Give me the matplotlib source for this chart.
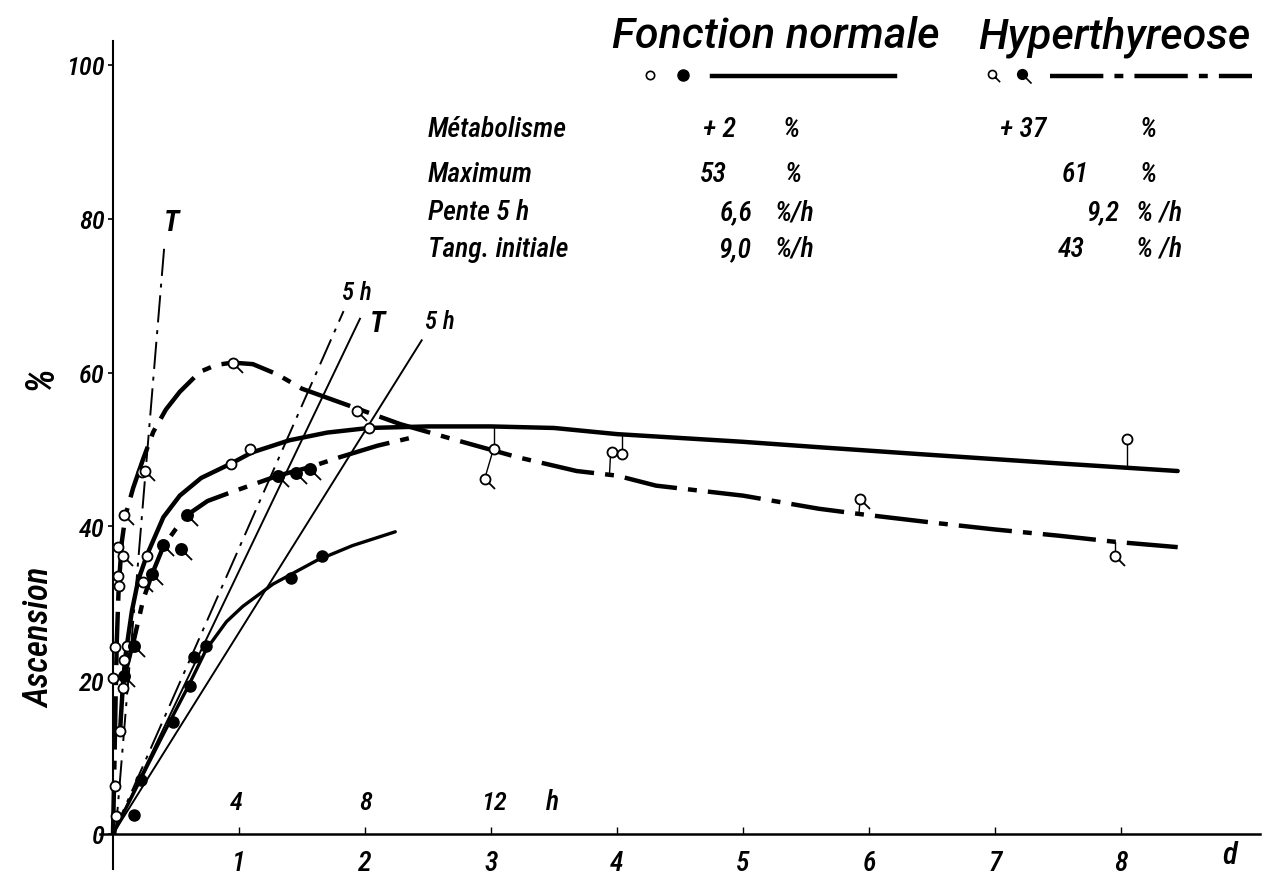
"""Iodine uptake curves: normal function vs hyperthyreosis (scan redraw).

Open marks are read on the day scale, filled marks on the hour scale (4 h per tick).
Writes out.png
"""

import matplotlib

matplotlib.use("Agg")
import matplotlib.pyplot as plt
from matplotlib import font_manager
from matplotlib.path import Path

# --- curves -------------------------------------------------------------
NORMAL_D_X = [0.056, 0.077, 0.095, 0.11, 0.15, 0.2, 0.27, 0.4, 0.53, 0.7, 0.94, 1.1,
              1.4, 1.7, 2.03, 2.5, 3.0, 3.5, 4.0, 5.0, 5.6, 6.4, 7.5, 8.45]
NORMAL_D_Y = [13.4, 19.0, 22.6, 24.5, 29.0, 33.0, 36.3, 41.2, 44.0, 46.3, 48.2, 49.6,
              51.2, 52.2, 52.8, 53.0, 53.0, 52.8, 52.0, 51.0, 50.3, 49.4, 48.2, 47.2]

NORMAL_H_X = [0.0, 0.2, 0.4, 0.6, 0.74, 0.9, 1.03, 1.27, 1.62, 1.9, 2.24]
NORMAL_H_Y = [0.0, 6.5, 13.0, 19.3, 24.0, 27.6, 29.6, 32.5, 35.6, 37.5, 39.3]

HYPER_D_X = [0.0, 0.01, 0.02, 0.03, 0.045, 0.07, 0.1, 0.16, 0.24, 0.32, 0.42, 0.53,
             0.69, 0.82, 0.95, 1.11, 1.3, 1.5, 1.84, 2.28, 2.75, 3.21, 3.68, 4.0,
             4.31, 5.0, 5.6, 5.93, 6.5, 7.0, 7.5, 7.95, 8.45]
HYPER_D_Y = [0.0, 8.0, 17.0, 25.0, 32.0, 38.0, 41.5, 45.0, 48.8, 52.3, 55.2, 57.5,
             60.1, 61.0, 61.3, 61.1, 59.8, 57.9, 55.9, 53.3, 51.1, 49.0, 47.2, 46.6,
             45.3, 44.0, 42.3, 41.6, 40.5, 39.6, 38.8, 38.0, 37.3]

HYPER_H_X = [0.09, 0.17, 0.24, 0.31, 0.40, 0.5, 0.59, 0.75, 0.93, 1.31, 1.56, 1.8, 2.1, 2.41]
HYPER_H_Y = [20.5, 25.5, 30.5, 33.8, 37.4, 39.7, 41.5, 43.3, 44.4, 46.6, 47.7, 49.0, 50.5, 51.7]

# straight lines from the origin: (x, y) of both ends
HYPER_T = ([0.02, 0.41], [0.0, 77.0])
HYPER_5H = ([0.0, 1.83], [0.0, 68.0])
NORMAL_T = ([0.0, 1.96], [0.0, 67.0])
NORMAL_5H = ([0.0, 2.45], [0.0, 64.2])

# --- measured points ----------------------------------------------------
OPEN_X = [0.024, 0.016, 0.0, 0.016, 0.056, 0.077, 0.09, 0.11, 0.04, 0.05, 0.04,
          0.23, 0.27, 0.94, 1.09, 2.03, 3.02, 3.96, 4.04, 8.05]
OPEN_Y = [2.4, 6.3, 20.3, 24.3, 13.4, 19.0, 22.6, 24.5, 33.5, 32.3, 37.3,
          47.1, 36.1, 48.1, 50.1, 52.8, 50.1, 49.7, 49.4, 51.4]

OPEN_TAIL_X = [0.08, 0.09, 0.235, 0.25, 0.95, 1.94, 2.95, 5.93, 7.95]
OPEN_TAIL_Y = [36.2, 41.5, 32.8, 47.2, 61.3, 55.0, 46.2, 43.6, 36.1]

FILLED_X = [0.17, 0.22, 0.48, 0.61, 0.64, 0.74, 1.41, 1.66]
FILLED_Y = [2.5, 7.0, 14.5, 19.2, 23.0, 24.5, 33.3, 36.1]

FILLED_TAIL_X = [0.09, 0.17, 0.31, 0.40, 0.54, 0.59, 1.31, 1.45, 1.56]
FILLED_TAIL_Y = [20.5, 24.5, 33.8, 37.6, 37.1, 41.5, 46.6, 47.0, 47.5]

# thin stems joining a point to its curve
STEM_X0 = [3.02, 3.02, 4.04, 3.95, 5.93, 7.95, 8.05]
STEM_X1 = [3.02, 2.95, 4.04, 3.94, 5.92, 7.95, 8.05]
STEM_Y0 = [52.8, 50.1, 51.8, 49.7, 43.6, 36.1, 51.4]
STEM_Y1 = [50.1, 46.2, 49.4, 46.7, 41.6, 38.0, 47.7]

Y_TICKS = [0, 20, 40, 60, 80, 100]
X_TICKS = [1, 2, 3, 4, 5, 6, 7, 8]
HOUR_TICKS = ["4", "8", "12"]

ROW_LABELS = ["Métabolisme", "Maximum", "Pente 5 h", "Tang. initiale"]
NORMAL_VALUES = ["+ 2", "53", "6,6", "9,0"]
NORMAL_UNITS = ["%", "%", "%/h", "%/h"]
HYPER_VALUES = ["+ 37", "61", "9,2", "43"]
HYPER_UNITS = ["%", "%", "% /h", "% /h"]

# --- setup --------------------------------------------------------------
W, H = 1264, 879
X0, XS = 113, 126.0     # pixel of x=0, pixels per day
Y0, YS = 835, 7.69      # pixel of y=0, pixels per %

names = {f.name for f in font_manager.fontManager.ttflist}
NARROW = next((n for n in ["Roboto Condensed", "Liberation Sans Narrow", "Archivo Narrow",
                           "PT Sans Narrow"] if n in names), "Roboto")
WIDE = "Roboto" if "Roboto" in names else "Liberation Sans"
plt.rcParams["font.family"] = [NARROW, "DejaVu Sans"]
plt.rcParams["font.style"] = "italic"
plt.rcParams["font.weight"] = "medium"


def dx(px):
    return (px - X0) / XS


def dy(py):
    return (Y0 - py) / YS


fig = plt.figure(figsize=(W / 100, H / 100), dpi=100)
ax = fig.add_axes([0, 0, 1, 1])
ax.set_xlim(dx(0), dx(W))
ax.set_ylim(dy(H), dy(0))
for s in ("top", "right"):
    ax.spines[s].set_visible(False)
ax.spines["left"].set_position(("data", 0))
ax.spines["bottom"].set_position(("data", 0))
ax.spines["left"].set_bounds(dy(870), dy(42))
ax.spines["bottom"].set_bounds(dx(100), dx(1260))
ax.spines["left"].set_linewidth(1.5)
ax.spines["bottom"].set_linewidth(1.8)

ax.set_yticks(Y_TICKS)
ax.set_yticklabels([str(v) for v in Y_TICKS])
ax.set_xticks(X_TICKS)
ax.set_xticklabels([str(v) for v in X_TICKS])
ax.tick_params(axis="y", direction="out", length=3.5, width=1.2, pad=2.5, labelsize=19)
ax.tick_params(axis="x", direction="in", length=5, width=1.0, pad=11, labelsize=20)

# --- markers ------------------------------------------------------------
TAIL = Path.make_compound_path(
    Path.circle((0, 0), 0.5),
    Path([(0.35, -0.35), (0.95, -0.95)], [Path.MOVETO, Path.LINETO]),
)
MS = 7.2
MS_TAIL = MS / 0.526

DASHDOT = (0, (12, 2.5, 2, 2.5))
THIN_DASHDOT = (0, (14, 4, 2, 4))

# --- lines --------------------------------------------------------------
ax.plot(NORMAL_D_X, NORMAL_D_Y, color="k", lw=3.2, solid_capstyle="round", zorder=3)
ax.plot(NORMAL_H_X, NORMAL_H_Y, color="k", lw=2.4, solid_capstyle="round", zorder=3)
ax.plot(HYPER_D_X, HYPER_D_Y, color="k", lw=3.2, ls=DASHDOT, zorder=3)
ax.plot(HYPER_H_X, HYPER_H_Y, color="k", lw=3.2, ls=DASHDOT, zorder=3)

ax.plot(*HYPER_T, color="k", lw=1.4, ls=THIN_DASHDOT, zorder=2)
ax.plot(*HYPER_5H, color="k", lw=1.4, ls=THIN_DASHDOT, zorder=2)
ax.plot(*NORMAL_T, color="k", lw=1.4, zorder=2)
ax.plot(*NORMAL_5H, color="k", lw=1.4, zorder=2)

for x0, x1, y0, y1 in zip(STEM_X0, STEM_X1, STEM_Y0, STEM_Y1):
    ax.plot([x0, x1], [y0, y1], color="k", lw=1.0, zorder=2)

# --- points -------------------------------------------------------------
ax.plot(OPEN_X, OPEN_Y, "o", ms=MS, mfc="white", mec="k", mew=1.3, zorder=5)
ax.plot(OPEN_TAIL_X, OPEN_TAIL_Y, ls="none", marker=TAIL, ms=MS_TAIL,
        mfc="white", mec="k", mew=1.3, zorder=5)
ax.plot(FILLED_X, FILLED_Y, "o", ms=MS + 0.8, mfc="k", mec="k", zorder=5)
ax.plot(FILLED_TAIL_X, FILLED_TAIL_Y, ls="none", marker=TAIL, ms=MS_TAIL + 1.5,
        mfc="k", mec="k", mew=1.3, zorder=5)

# --- legend row ---------------------------------------------------------
ax.plot([dx(650)], [dy(76)], "o", ms=6, mfc="white", mec="k", mew=1.2, clip_on=False)
ax.plot([dx(683)], [dy(76)], "o", ms=8, mfc="k", mec="k", clip_on=False)
ax.plot([dx(712), dx(895)], [dy(77), dy(77)], color="k", lw=3.2, clip_on=False)
ax.plot([dx(992)], [dy(75)], ls="none", marker=TAIL, ms=11, mfc="white", mec="k",
        mew=1.2, clip_on=False)
ax.plot([dx(1022)], [dy(75)], ls="none", marker=TAIL, ms=13, mfc="k", mec="k",
        mew=1.2, clip_on=False)
ax.plot([dx(1050), dx(1252)], [dy(77), dy(77)], color="k", lw=3.2, ls=DASHDOT,
        clip_on=False)


# --- text ---------------------------------------------------------------
def txt(px, py, s, size, ha="left", va="baseline", **kw):
    fig.text(px / W, 1 - py / H, s, fontsize=size, ha=ha, va=va, **kw)


txt(612, 48, "Fonction normale", 31, family=[WIDE, "DejaVu Sans"], weight="medium")
txt(978, 48, "Hyperthyreose", 31, family=[WIDE, "DejaVu Sans"], weight="medium")

row_base = [137, 182, 220, 257]
norm_val_x = [703, 700, 720, 718]
norm_unit_x = [783, 785, 775, 775]
hyp_val_x = [1000, 1062, 1086, 1058]
hyp_unit_x = [1140, 1140, 1136, 1136]
for i, lab in enumerate(ROW_LABELS):
    txt(428, row_base[i], lab, 20)
    txt(norm_val_x[i], row_base[i], NORMAL_VALUES[i], 20)
    txt(norm_unit_x[i], row_base[i], NORMAL_UNITS[i], 20)
    txt(hyp_val_x[i], row_base[i], HYPER_VALUES[i], 20)
    txt(hyp_unit_x[i], row_base[i], HYPER_UNITS[i], 20)

for lab, px in zip(HOUR_TICKS, [236, 366, 494]):
    txt(px, 803, lab, 19, ha="center", va="center")
txt(553, 803, "h", 20, ha="center", va="center")
txt(1230, 856, "d", 22, ha="center", va="center")

txt(171, 223, "T", 21, ha="center", va="center", weight="bold")
txt(357, 293, "5 h", 18, ha="center", va="center")
txt(377, 324, "T", 21, ha="center", va="center", weight="bold")
txt(440, 322, "5 h", 18, ha="center", va="center")

txt(40, 638, "Ascension", 25, ha="center", va="center", rotation=90)
txt(40, 378, "%", 29, ha="center", va="center", rotation=90)

fig.savefig("out.png", dpi=100)
